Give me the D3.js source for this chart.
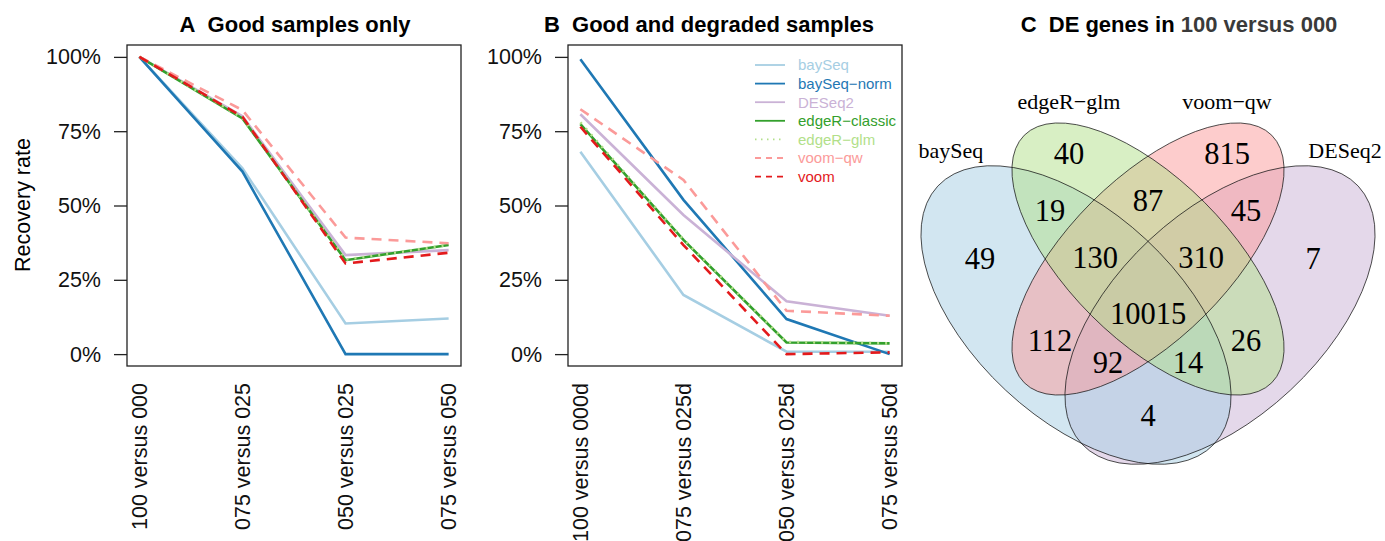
<!DOCTYPE html>
<html lang="en">
<head>
<meta charset="UTF-8">
<title>Recovery rate and DE genes</title>
<script src="https://d3js.org/d3.v7.min.js"></script>
<style>
  body { margin: 0; background: #fff; }
  svg { display: block; font-family: "Liberation Sans", Arial, Helvetica, sans-serif; }
</style>
</head>
<body>
<svg width="1385" height="541"></svg>
<script>
// ---- data ----
const categoriesA = ["100 versus 000", "075 versus 025", "050 versus 025", "075 versus 050"];
const categoriesB = ["100 versus 000d", "075 versus 025d", "050 versus 025d", "075 versus 50d"];
const methods = ["baySeq", "baySeq\u2212norm", "DESeq2", "edgeR\u2212classic", "edgeR\u2212glm", "voom\u2212qw", "voom"];
const yTicks = [0, 0.25, 0.5, 0.75, 1];

// recovery rate, panel A (good samples only), one row per method
const valuesA = [
  [1.00, 0.625, 0.103, 0.120],
  [1.00, 0.614, 0.000, 0.000],
  [1.00, 0.800, 0.333, 0.350],
  [1.00, 0.793, 0.316, 0.367],
  [1.00, 0.795, 0.318, 0.367],
  [1.00, 0.821, 0.392, 0.373],
  [1.00, 0.799, 0.305, 0.341]
];
// panel B (good and degraded samples)
const valuesB = [
  [0.681, 0.199, 0.008, 0.008],
  [0.992, 0.519, 0.118, 0.000],
  [0.807, 0.468, 0.178, 0.129],
  [0.774, 0.384, 0.039, 0.036],
  [0.780, 0.386, 0.041, 0.036],
  [0.824, 0.586, 0.146, 0.129],
  [0.765, 0.367, 0.000, 0.006]
];

// Venn: sets and region counts (membership flags in set order)
const vennSets = ["baySeq", "edgeR\u2212glm", "voom\u2212qw", "DESeq2"];
const vennRegions = ["1000", "0100", "0010", "0001", "1100", "0110", "0011",
                     "1110", "0111", "1111", "1010", "0101", "1011", "1101", "1001"];
const vennCounts = [49, 40, 815, 7, 19, 87, 45, 130, 310, 10015, 112, 26, 92, 14, 4];

// ---- styles ----
const methodColors = ["#A6CEE3", "#1F78B4", "#CAB2D6", "#33A02C", "#B2DF8A", "#FB9A99", "#E31A1C"];
const methodDash = [null, null, null, null, "2,6", "10,7", "10,7"];
const vennColors = ["#A6CEE3", "#B2DF8A", "#FB9A99", "#CAB2D6"];
const vennDrawOrder = [3, 0, 2, 1]; // which fill ends up on top

const svg = d3.select("svg");
const axisFont = "21.5px";

function drawPanel(cfg) {
  const x = d3.scalePoint().domain(cfg.cats).range([cfg.left, cfg.right]).padding(0.12);
  const y = d3.scaleLinear().domain([-0.04, 1.04]).range([cfg.bottom, cfg.top]);
  const g = svg.append("g");

  // title
  g.append("text")
    .attr("x", cfg.titleX).attr("y", 32)
    .attr("text-anchor", "middle")
    .style("font-size", "22px").style("font-weight", "bold")
    .text(cfg.title);

  // lines
  const line = d3.line().x((d, i) => x(cfg.cats[i])).y(d => y(d));
  g.selectAll(".series")
    .data(cfg.values)
    .enter().append("path")
      .attr("class", "series")
      .attr("d", line)
      .attr("fill", "none")
      .attr("stroke", (d, i) => methodColors[i])
      .attr("stroke-width", 2.6)
      .attr("stroke-dasharray", (d, i) => methodDash[i]);

  // box
  g.append("rect")
    .attr("x", cfg.left).attr("y", cfg.top)
    .attr("width", cfg.right - cfg.left).attr("height", cfg.bottom - cfg.top)
    .attr("fill", "none").attr("stroke", "#222").attr("stroke-width", 1.3);

  // y axis
  const ya = g.append("g")
    .attr("transform", `translate(${cfg.left},0)`)
    .call(d3.axisLeft(y).tickValues(yTicks).tickFormat(d3.format(".0%")).tickSize(13).tickPadding(13));
  ya.select(".domain").remove();
  ya.selectAll("line").attr("stroke", "#222").attr("stroke-width", 1.3);
  ya.selectAll("text").style("font-size", axisFont).attr("fill", "#111")
    .style("font-family", "'Liberation Sans', Arial, sans-serif");

  // x labels, vertical
  g.selectAll(".xlab")
    .data(cfg.cats)
    .enter().append("text")
      .attr("class", "xlab")
      .attr("transform", d => `translate(${x(d)},383) rotate(-90)`)
      .attr("text-anchor", "end")
      .attr("dy", "0.36em")
      .style("font-size", axisFont)
      .attr("fill", "#111")
      .text(d => d);

  return { x, y, g };
}

drawPanel({ cats: categoriesA, values: valuesA, left: 127, right: 461, top: 45, bottom: 366,
            title: "A\u00a0\u00a0Good samples only", titleX: 295 });
drawPanel({ cats: categoriesB, values: valuesB, left: 568, right: 902, top: 45, bottom: 366,
            title: "B\u00a0\u00a0Good and degraded samples", titleX: 709 });

// y label
svg.append("text")
  .attr("transform", "translate(30,205) rotate(-90)")
  .attr("text-anchor", "middle")
  .style("font-size", axisFont)
  .text("Recovery rate");

// legend in panel B
const legend = svg.append("g").attr("transform", "translate(755,65)");
const rows = legend.selectAll("g").data(methods).enter().append("g")
  .attr("transform", (d, i) => `translate(0,${i * 18.6})`);
rows.append("line")
  .attr("x1", 0).attr("x2", 30)
  .attr("stroke", (d, i) => methodColors[i])
  .attr("stroke-width", 1.8)
  .attr("stroke-dasharray", (d, i) => methodDash[i] ? (i === 4 ? "1.5,4.5" : "6,5") : null);
rows.append("text")
  .attr("x", 43).attr("dy", "0.36em")
  .style("font-size", "15px")
  .attr("fill", (d, i) => methodColors[i])
  .text(d => d);

// ---- panel C: Venn diagram ----
// venn space: 1 unit = 100px, origin at the centre of the two inner ellipses
const vx = d3.scaleLinear().domain([0, 1]).range([1148, 1248]);
const vy = d3.scaleLinear().domain([0, 1]).range([259, 159]);
const vk = vx(1) - vx(0);

const ellipses = [
  { cx: -0.72, cy: -0.56, a: 1.89, b: 1.03, rot: 43 },
  { cx: 0, cy: 0, a: 1.75, b: 0.80, rot: 45 },
  { cx: 0, cy: 0, a: 1.75, b: 0.80, rot: -45 },
  { cx: 0.72, cy: -0.56, a: 1.89, b: 1.03, rot: -43 }
];
const setLabelPos = [[-1.97, 1.09], [-0.79, 1.58], [0.79, 1.58], [1.97, 1.09]];
const regionPos = {
  "1000": [-1.68, 0.01], "0100": [-0.79, 1.06], "0010": [0.79, 1.06], "0001": [1.65, 0.01],
  "1100": [-0.98, 0.49], "0110": [0, 0.59], "0011": [0.98, 0.49],
  "1110": [-0.53, 0.02], "0111": [0.53, 0.02], "1111": [0, -0.54],
  "1010": [-0.98, -0.81], "0101": [0.98, -0.81],
  "1011": [-0.40, -1.03], "1101": [0.40, -1.03], "1001": [0, -1.56]
};

const venn = svg.append("g").style("font-family", "'Liberation Serif', 'Times New Roman', serif");
const ordered = vennDrawOrder.map(i => ({ e: ellipses[i], color: vennColors[i] }));

venn.selectAll(".fill").data(ordered).enter().append("ellipse")
  .attr("class", "fill")
  .attr("transform", d => `translate(${vx(d.e.cx)},${vy(d.e.cy)}) rotate(${d.e.rot})`)
  .attr("rx", d => d.e.a * vk).attr("ry", d => d.e.b * vk)
  .attr("fill", d => d.color).attr("fill-opacity", 0.5)
  .attr("stroke", "none");

venn.selectAll(".edge").data(ellipses).enter().append("ellipse")
  .attr("class", "edge")
  .attr("transform", d => `translate(${vx(d.cx)},${vy(d.cy)}) rotate(${d.rot})`)
  .attr("rx", d => d.a * vk).attr("ry", d => d.b * vk)
  .attr("fill", "none").attr("stroke", "#111").attr("stroke-width", 0.7);

venn.selectAll(".count").data(vennRegions).enter().append("text")
  .attr("class", "count")
  .attr("x", d => vx(regionPos[d][0]))
  .attr("y", d => vy(regionPos[d][1]))
  .attr("text-anchor", "middle").attr("dy", "0.35em")
  .style("font-size", "30.5px")
  .text((d, i) => vennCounts[i]);

venn.selectAll(".setname").data(vennSets).enter().append("text")
  .attr("class", "setname")
  .attr("x", (d, i) => vx(setLabelPos[i][0]))
  .attr("y", (d, i) => vy(setLabelPos[i][1]))
  .attr("text-anchor", "middle").attr("dy", "0.35em")
  .style("font-size", "22px")
  .text(d => d);

const ct = svg.append("text")
  .attr("x", 1179).attr("y", 32)
  .attr("text-anchor", "middle")
  .style("font-size", "22px").style("font-weight", "bold");
ct.append("tspan").text("C\u00a0\u00a0DE genes in ");
ct.append("tspan").attr("fill", "#3a3a3a").text("100 versus 000");
</script>
</body>
</html>
